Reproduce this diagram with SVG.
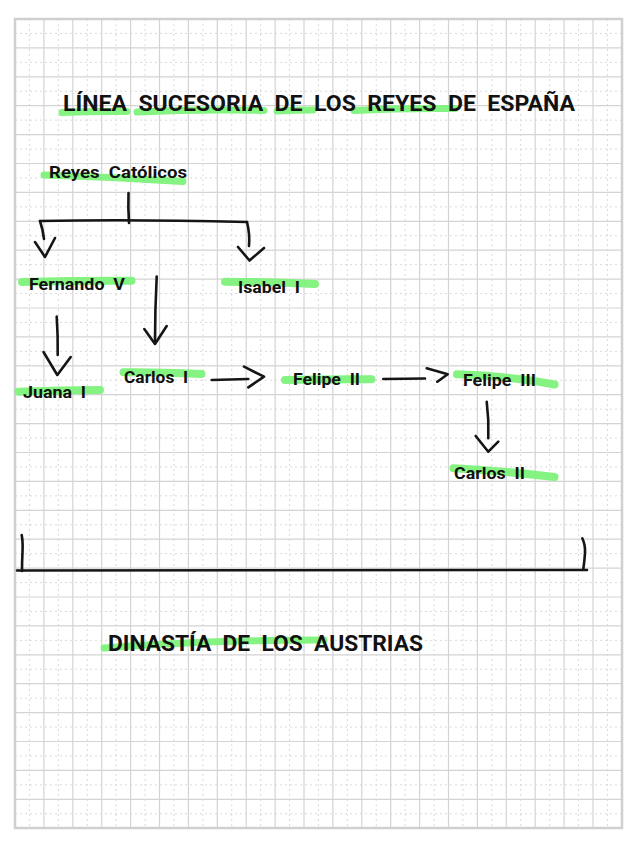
<svg xmlns="http://www.w3.org/2000/svg" width="636" height="848" viewBox="0 0 636 848">
<style>
.grid{fill:none;stroke:#d4d4d4;stroke-width:1.2}
.dash{fill:none;stroke:#dadada;stroke-width:1;stroke-dasharray:2 3}
.hl{fill:none;stroke:#7ef27a;stroke-linecap:round;stroke-linejoin:round;opacity:0.95}
.lbl{font-family:Roboto,"Liberation Sans",sans-serif;font-weight:bold;fill:#111;white-space:pre}
.t{font-size:22px}
.n{font-size:16.5px}
.ink{fill:none;stroke:#151515;stroke-width:2.6;stroke-linecap:round;stroke-linejoin:round}
</style>
<rect x="0" y="0" width="636" height="848" fill="#ffffff"/>
<g id="paper">
<path class="dash" d="M29.45 19V828M58.35 19V828M87.25 19V828M116.15 19V828M145.05 19V828M173.95 19V828M202.85 19V828M231.75 19V828M260.65 19V828M289.55 19V828M318.45 19V828M347.35 19V828M376.25 19V828M405.15 19V828M434.05 19V828M462.95 19V828M491.85 19V828M520.75 19V828M549.65 19V828M578.55 19V828M607.45 19V828"/>
<path class="dash" d="M15 33.45H622M15 62.35H622M15 91.25H622M15 120.15H622M15 149.05H622M15 177.95H622M15 206.85H622M15 235.75H622M15 264.65H622M15 293.55H622M15 322.45H622M15 351.35H622M15 380.25H622M15 409.15H622M15 438.05H622M15 466.95H622M15 495.85H622M15 524.75H622M15 553.65H622M15 582.55H622M15 611.45H622M15 640.35H622M15 669.25H622M15 698.15H622M15 727.05H622M15 755.95H622M15 784.85H622M15 813.75H622"/>
<path class="grid" d="M43.9 19V828M72.8 19V828M101.7 19V828M130.6 19V828M159.5 19V828M188.4 19V828M217.3 19V828M246.2 19V828M275.1 19V828M304 19V828M332.9 19V828M361.8 19V828M390.7 19V828M419.6 19V828M448.5 19V828M477.4 19V828M506.3 19V828M535.2 19V828M564.1 19V828M593 19V828"/>
<path class="grid" d="M15 47.9H622M15 76.8H622M15 105.7H622M15 134.6H622M15 163.5H622M15 192.4H622M15 221.3H622M15 250.2H622M15 279.1H622M15 308H622M15 336.9H622M15 365.8H622M15 394.7H622M15 423.6H622M15 452.5H622M15 481.4H622M15 510.3H622M15 539.2H622M15 568.1H622M15 597H622M15 625.9H622M15 654.8H622M15 683.7H622M15 712.6H622M15 741.5H622M15 770.4H622M15 799.3H622"/>
<rect x="15" y="19" width="607" height="809" fill="none" stroke="#d0d0d0" stroke-width="2.5"/>
</g>
<g id="title">
<path class="hl" stroke-width="7" d="M62 112.5Q95 111 127 111.5M137 112Q200 109 264 110.5M277 111Q295 110 313 110M354 110.5Q400 108 455 108.5"/>
<text class="lbl t" x="63" y="110.5" textLength="512" lengthAdjust="spacingAndGlyphs">LÍNEA  SUCESORIA  DE  LOS  REYES  DE  ESPAÑA</text>
</g>
<g id="connectors">
<path class="ink" d="M128.5 193Q128 208 129 223"/>
<path class="ink" d="M40 221Q130 219 247 222"/>
<path class="ink" d="M40 221Q43 230 44 239"/>
<path class="ink" d="M35 242L45 257L55 238"/>
<path class="ink" d="M247 222Q250 234 249 246"/>
<path class="ink" d="M238 247L249.5 260.5L264 248"/>
<path class="ink" d="M56.7 316.5Q58 336 57.7 355"/>
<path class="ink" d="M43.5 352L57.3 375L70.7 357"/>
<path class="ink" d="M156.7 276.5Q155 310 155 342"/>
<path class="ink" d="M144.3 329L155 344L166.7 326"/>
<path class="ink" d="M211.7 380Q230 379.5 248.3 379"/>
<path class="ink" d="M244 366.7L264 376.7L248.3 387.3"/>
<path class="ink" d="M383.3 379Q405 378.5 425 378.5"/>
<path class="ink" d="M426.7 368.3L447.7 374.3L437.3 381.7"/>
<path class="ink" d="M486.7 401.7Q489 420 488.3 438.3"/>
<path class="ink" d="M475.7 436L488.3 451.7L498.3 441.7"/>
<path class="ink" d="M17 570.5Q300 569.5 587 570"/>
<path class="ink" d="M21.7 535Q23 542 22.5 552Q22 562 22 571"/>
<path class="ink" d="M582.3 538.3Q585.5 545 585 553Q584.5 561 583.3 569.3"/>
</g>
<g id="node-reyes-catolicos">
<path class="hl" stroke-width="7" d="M44 175Q110 177 183 181.5"/>
<text class="lbl n" x="49" y="178" textLength="138" lengthAdjust="spacingAndGlyphs">Reyes  Católicos</text>
</g>
<g id="node-fernando-v">
<path class="hl" stroke-width="8" d="M22 282Q75 280.5 131.5 280.7"/>
<text class="lbl n" x="29" y="290" textLength="96" lengthAdjust="spacingAndGlyphs">Fernando  V</text>
</g>
<g id="node-isabel-i">
<path class="hl" stroke-width="8" d="M225 281.7Q270 282 315 284"/>
<text class="lbl n" x="238" y="293" textLength="62" lengthAdjust="spacingAndGlyphs">Isabel  I</text>
</g>
<g id="node-juana-i">
<path class="hl" stroke-width="8" d="M18.5 391.7Q60 390 100 390"/>
<text class="lbl n" x="23" y="398" textLength="63" lengthAdjust="spacingAndGlyphs">Juana  I</text>
</g>
<g id="node-carlos-i">
<path class="hl" stroke-width="8" d="M123.5 372.3Q160 372 201.5 374"/>
<text class="lbl n" x="124" y="382.5" textLength="64" lengthAdjust="spacingAndGlyphs">Carlos  I</text>
</g>
<g id="node-felipe-ii">
<path class="hl" stroke-width="8" d="M285 380Q330 379 371.5 379.3"/>
<text class="lbl n" x="293" y="385" textLength="67" lengthAdjust="spacingAndGlyphs">Felipe  II</text>
</g>
<g id="node-felipe-iii">
<path class="hl" stroke-width="8" d="M457 374.3Q510 376 554.5 384.5"/>
<text class="lbl n" x="463" y="386" textLength="73" lengthAdjust="spacingAndGlyphs">Felipe  III</text>
</g>
<g id="node-carlos-ii">
<path class="hl" stroke-width="8" d="M453.5 468.3Q505 471 554.5 477"/>
<text class="lbl n" x="454" y="479" textLength="71" lengthAdjust="spacingAndGlyphs">Carlos  II</text>
</g>
<g id="footer">
<path class="hl" stroke-width="7" d="M104 648Q200 640 324 640"/>
<text class="lbl t" x="108" y="651" textLength="315" lengthAdjust="spacingAndGlyphs">DINASTÍA  DE  LOS  AUSTRIAS</text>
</g>
</svg>
